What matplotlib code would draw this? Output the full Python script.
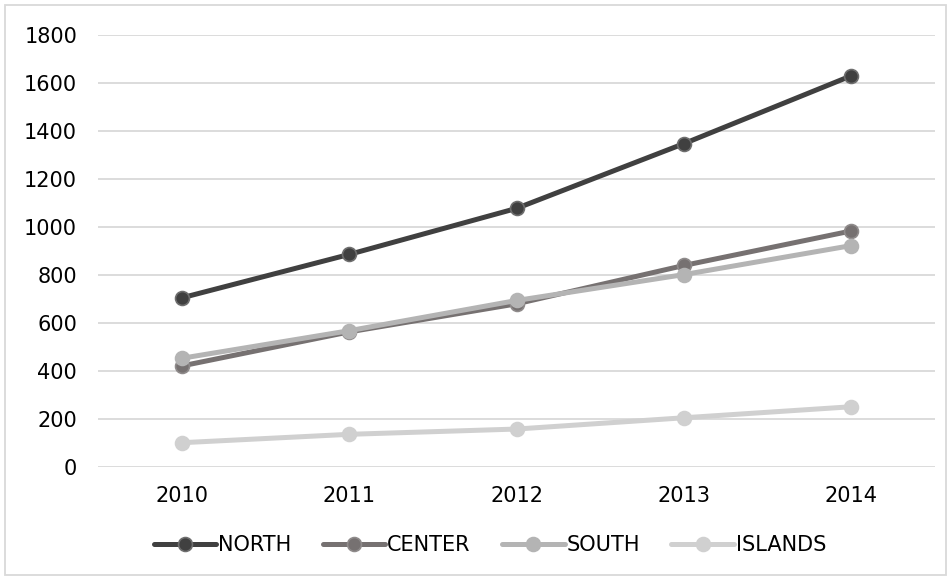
import matplotlib
matplotlib.use("Agg")
from matplotlib import pyplot as plt
from matplotlib.patches import Rectangle

##### Data #####
years = ["2010", "2011", "2012", "2013", "2014"]
north = [704, 885, 1077, 1347, 1630]
center = [420, 562, 679, 839, 983]
south = [452, 567, 693, 801, 922]
islands = [100, 135, 157, 204, 250]

names = ["NORTH", "CENTER", "SOUTH", "ISLANDS"]
colors = ["#404040", "#767171", "#b4b4b4", "#d0d0d0"]
edges = ["#6e6e6e", "#8f8b8b", "#b4b4b4", "#d0d0d0"]

plt.rcParams["font.family"] = ["DejaVu Sans"]

fig = plt.figure(figsize=(9.52, 5.79), dpi=100)
ax = fig.add_axes([98/952, 1-466.7/579, (935-98)/952, (466.7-35)/579])

x = list(range(len(years)))
for vals, name, c, ec in zip([north, center, south, islands], names, colors, edges):
    ax.plot(x, vals, color=c, lw=3.6, marker="o", ms=10, mfc=c, mec=ec, mew=1.2,
            label=name, solid_capstyle="round")

ax.set_xlim(-0.5, 4.5)
ax.set_ylim(0, 1800)
ax.set_yticks(range(0, 1801, 200))
ax.set_xticks(x)
ax.set_xticklabels(years)
ax.grid(axis="y", color="#d9d9d9", lw=1.3)
ax.set_axisbelow(True)
for s in ax.spines.values():
    s.set_visible(False)
ax.tick_params(axis="both", length=0, labelsize=15, colors="#000000")
ax.tick_params(axis="y", pad=15)
ax.tick_params(axis="x", pad=14)

leg = ax.legend(loc="center", bbox_to_anchor=(490/952, 1-545/579), bbox_transform=fig.transFigure,
                ncol=4, frameon=False, fontsize=15, handlelength=3.0, handletextpad=0.1,
                columnspacing=1.5, borderpad=0)

fig.patches.append(Rectangle((5/952, 4/579), 941/952, 570/579, transform=fig.transFigure,
                             fill=False, edgecolor="#d9d9d9", lw=1.3))

fig.savefig("out.png", dpi=100)
